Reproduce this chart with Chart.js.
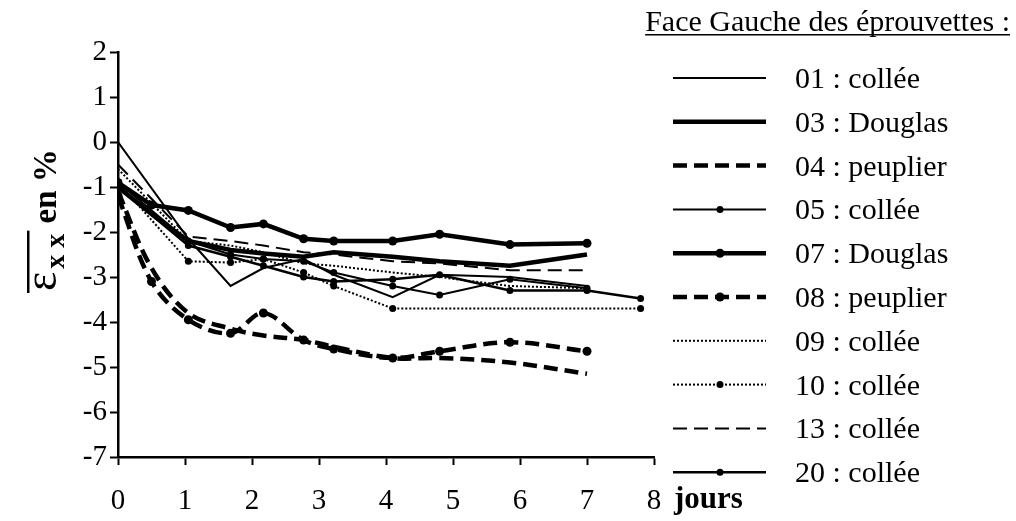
<!DOCTYPE html>
<html>
<head>
<meta charset="utf-8">
<script src="https://cdn.jsdelivr.net/npm/chart.js@4.4.1/dist/chart.umd.min.js"></script>
<style>
  html, body { margin: 0; padding: 0; background: #fff; }
  #wrap { width: 1016px; height: 521px; }
</style>
</head>
<body>
<div id="wrap"><canvas id="chart"></canvas></div>
<script>
// measurement days (x values) shared by all the specimens
const days = [0, 0.5, 1.05, 1.68, 2.17, 2.77, 3.22, 4.1, 4.8, 5.85, 7.0, 7.8];

// mean strain exx in %, one array per specimen (null = not measured)
const s01 = [0, null, -2.15, -3.2, -2.8, -2.6, -2.95, -3.45, -2.95, -3.0, -3.2, null];
const s03 = [-1.0, -1.6, -2.2, -2.4, -2.48, -2.55, -2.45, -2.55, -2.65, -2.75, -2.5, null];
const s04 = [-1.1, -2.8, -3.8, -4.15, -4.3, -4.4, -4.55, -4.8, -4.8, -4.9, -5.15, null];
const s05 = [-0.9, null, -2.2, -2.5, -2.6, -2.65, -2.9, -3.2, -3.4, -3.05, -3.25, null];
const s07 = [-0.9, -1.4, -1.52, -1.9, -1.82, -2.15, -2.2, -2.2, -2.05, -2.28, -2.25, null];
const s08 = [-1.2, -3.1, -3.95, -4.25, -3.8, -4.4, -4.6, -4.8, -4.65, -4.45, -4.65, null];
const s09 = [-0.6, null, -2.2, -2.3, -2.45, -2.7, -2.75, -2.9, -3.0, -3.2, -3.25, null];
const s10 = [-0.9, null, -2.65, -2.68, -2.6, -2.9, -3.2, -3.7, null, null, null, -3.7];
const s13 = [-0.5, null, -2.1, -2.2, -2.3, -2.45, -2.5, -2.65, -2.7, -2.85, -2.85, null];
const s20 = [-1.0, null, -2.3, -2.55, -2.75, -3.0, -3.1, -3.05, -2.95, -3.3, -3.3, -3.48];

const yTicks = [2, 1, 0, -1, -2, -3, -4, -5, -6, -7];
const xTicks = [0, 1, 2, 3, 4, 5, 6, 7, 8];

const FONT = '"Liberation Serif", "Times New Roman", serif';

function pts(values) {
  return days.map((d, i) => ({ x: d, y: values[i] })).filter(p => p.y !== null);
}

function serie(label, values, width, dash, marker, tension) {
  return {
    label: label,
    data: pts(values),
    borderColor: '#000',
    backgroundColor: '#000',
    borderWidth: width,
    borderDash: dash,
    pointRadius: marker ? (width > 3 ? 4.5 : 3.5) : 0,
    pointBorderWidth: 0,
    pointBackgroundColor: '#000',
    tension: tension || 0,
    spanGaps: true,
    fill: false,
  };
}

const datasets = [
  serie('01 : collée', s01, 2, [], false),
  serie('03 : Douglas', s03, 4.5, [], false),
  serie('04 : peuplier', s04, 4.5, [14, 7], false, 0.35),
  serie('05 : collée', s05, 2, [], true),
  serie('07 : Douglas', s07, 4.5, [], true),
  serie('08 : peuplier', s08, 4.5, [14, 7], true, 0.35),
  serie('09 : collée', s09, 2, [2, 2], false),
  serie('10 : collée', s10, 2, [2, 2], true),
  serie('13 : collée', s13, 2, [14, 7], false),
  serie('20 : collée', s20, 2.5, [], true),
];

// legend, title and axis texts drawn beside the plot
const sideTexts = {
  id: 'sideTexts',
  afterDraw(chart) {
    const ctx = chart.ctx;
    ctx.save();
    ctx.fillStyle = '#000';
    ctx.strokeStyle = '#000';

    // underlined title
    ctx.font = '30px ' + FONT;
    ctx.textAlign = 'left';
    ctx.textBaseline = 'alphabetic';
    const title = 'Face Gauche des éprouvettes :';
    const tw = ctx.measureText(title).width;
    const tx = 1010 - tw;
    ctx.fillText(title, tx, 31);
    ctx.fillRect(tx, 34, tw, 1.5);

    // legend rows
    chart.data.datasets.forEach((ds, i) => {
      const y = 78 + i * 43.8;
      ctx.lineWidth = ds.borderWidth;
      ctx.setLineDash(ds.borderDash);
      ctx.beginPath();
      ctx.moveTo(673, y);
      ctx.lineTo(766, y);
      ctx.stroke();
      ctx.setLineDash([]);
      if (ds.pointRadius > 0) {
        ctx.beginPath();
        ctx.arc(720, y, ds.pointRadius, 0, Math.PI * 2);
        ctx.fill();
      }
      ctx.font = '30px ' + FONT;
      ctx.fillText(ds.label, 795, y + 10);
    });

    // unit after the last x tick
    const xs = chart.scales.x;
    ctx.font = 'bold 31px ' + FONT;
    ctx.fillText('jours', xs.getPixelForValue(8) + 20, 508);

    // y axis title: mean strain exx en %
    ctx.translate(56, 291);
    ctx.rotate(-Math.PI / 2);
    ctx.font = '46px ' + FONT;
    ctx.fillText('ε', 0, 0);
    const ew = ctx.measureText('ε').width;
    ctx.font = 'bold 28px ' + FONT;
    ctx.fillText('x x', ew + 3, 8);
    const sw = ctx.measureText('x x').width;
    ctx.fillRect(-2, -29, ew + sw + 8, 2.5);
    ctx.font = 'bold 33px ' + FONT;
    ctx.fillText(' en %', ew + sw + 5, 0);
    ctx.restore();
  }
};

new Chart(document.getElementById('chart'), {
  type: 'line',
  data: { datasets: datasets },
  options: {
    responsive: true,
    maintainAspectRatio: false,
    animation: false,
    layout: { padding: { left: 0, top: 52, right: 362, bottom: 0 } },
    plugins: {
      legend: { display: false },
      tooltip: { enabled: false },
    },
    scales: {
      x: {
        type: 'linear',
        min: 0,
        max: 8,
        afterFit: (scale) => { scale.height = 64; },
        afterBuildTicks: (scale) => { scale.ticks = xTicks.map(v => ({ value: v })); },
        ticks: { color: '#000', font: { family: FONT, size: 29 }, padding: 19, maxRotation: 0 },
        grid: { drawOnChartArea: false, drawTicks: true, tickLength: 8, tickWidth: 2, tickColor: '#000' },
        border: { display: true, color: '#000', width: 2.5 },
      },
      y: {
        type: 'linear',
        min: -7,
        max: 2,
        afterFit: (scale) => { scale.width = 118; },
        afterBuildTicks: (scale) => { scale.ticks = yTicks.map(v => ({ value: v })); },
        ticks: { color: '#000', font: { family: FONT, size: 29 }, padding: 3 },
        grid: { drawOnChartArea: false, drawTicks: true, tickLength: 8, tickWidth: 2, tickColor: '#000' },
        border: { display: true, color: '#000', width: 2.5 },
      },
    },
  },
  plugins: [sideTexts],
});
</script>
</body>
</html>
